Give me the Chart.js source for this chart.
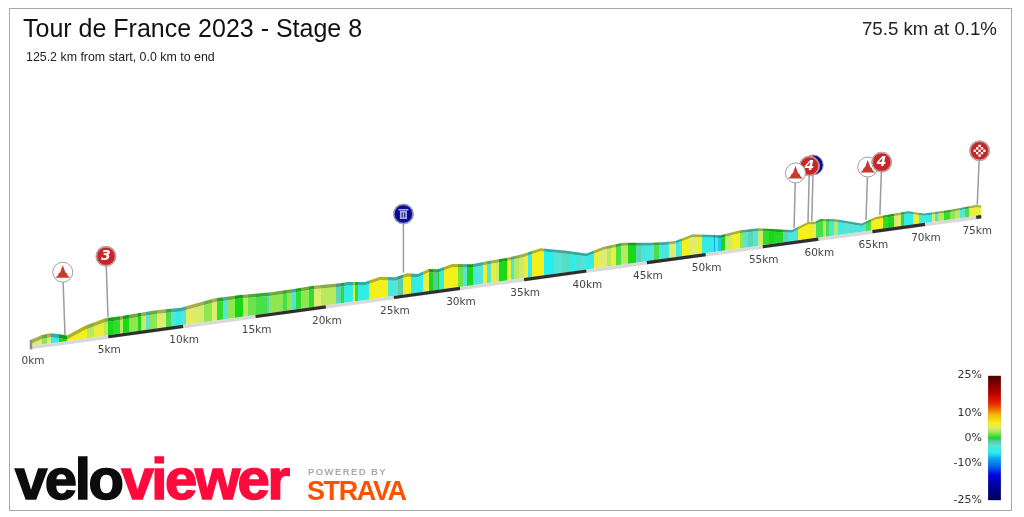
<!DOCTYPE html>
<html>
<head>
<meta charset="utf-8">
<title>Tour de France 2023 - Stage 8</title>
<script src="https://cdn.jsdelivr.net/npm/chart.js@4"></script>
<style>
  html, body { margin: 0; padding: 0; background: #fff; }
  body { position: relative; width: 1024px; height: 517px; overflow: hidden; font-family: "Liberation Sans", sans-serif; }
  canvas { position: absolute; }
  #frame { position: absolute; left: 9px; top: 8px; width: 1001px; height: 501px; border: 1.5px solid #aaa; }
  .txt { position: absolute; white-space: nowrap; }
  #title { left: 23px; top: 14px; font-size: 25px; color: #111; }
  #sub { left: 26px; top: 50px; font-size: 12.4px; color: #222; }
  #info { right: 27px; top: 18px; font-size: 18.7px; color: #222; }
  #logo { left: 15px; top: 445px; font-size: 58px; font-weight: bold; letter-spacing: -2.4px; -webkit-text-stroke: 1.6px; }
  #velo { color: #0c0c0c; }
  #viewer { color: #ff0a3c; }
  #powered { left: 308px; top: 466px; font-size: 9.5px; font-weight: bold; letter-spacing: 1.4px; color: #aaa; }
  #strava { left: 307px; top: 476px; font-size: 27px; font-weight: bold; letter-spacing: -1.4px; color: #fc5200; }
</style>
</head>
<body>
<div id="frame"></div>
<canvas id="profile" width="1024" height="517" style="left:0;top:0"></canvas>
<canvas id="gradeScale" width="61" height="150" style="left:940px;top:363px"></canvas>
<div class="txt" id="title">Tour de France 2023 - Stage 8</div>
<div class="txt" id="sub">125.2 km from start, 0.0 km to end</div>
<div class="txt" id="info">75.5 km at 0.1%</div>
<div class="txt" id="logo"><span id="velo">velo</span><span id="viewer">viewer</span></div>
<div class="txt" id="powered">POWERED BY</div>
<div class="txt" id="strava">STRAVA</div>
<script>
// Profile outline, km and apparent height above the road line
const profileKm = [0, 0.7, 1.22, 1.73, 2.31, 3.48, 4.79, 5.9, 6.96, 8.29, 9.86, 10.68, 12.2, 13.95, 16.1, 17.8, 19.1, 21.03, 21.6, 22.85, 23.97, 25.1, 25.96, 26.8, 27.6, 28.3, 29.4, 30.9, 32.4, 33.7, 34.9, 36.3, 38.4, 40.0, 41.4, 43.0, 45.2, 46.3, 47.4, 48.9, 51.3, 52.9, 54.6, 57.6, 59.1, 59.7, 60.2, 61.6, 64.0, 65.3, 67.1, 68.4, 69.9, 72.2, 75.0, 75.5];
const profileHeight = [7, 10.4, 11, 9.2, 6.3, 13.7, 18.4, 18.4, 18.9, 19.4, 18.5, 20.3, 23.3, 23.1, 21.7, 21.8, 22.4, 21.1, 21.3, 19, 22.2, 19.5, 21.9, 19.7, 23.3, 21.6, 25, 21.9, 23.1, 23.7, 25.2, 28.6, 22.5, 17.1, 21.5, 22.8, 19.1, 17.8, 17.3, 21.7, 16.9, 19, 18.6, 12.2, 18.3, 17.4, 19.4, 17, 9.2, 13.8, 14.5, 15, 10.7, 10.6, 11.8, 10.6];

// Coloured stripes, end km of each stripe and its gradient in %
const stripeEndKm = [0.7, 1, 1.3, 1.8, 2.3, 3.6, 4.05, 4.7, 5, 5.3, 5.8, 6, 6.35, 7, 7.2, 7.5, 7.8, 8.25, 8.85, 9.2, 9.5, 9.85, 10.2, 10.9, 11.45, 12, 12.35, 12.7, 13, 13.55, 14.1, 14.45, 15.05, 15.8, 15.95, 16.9, 17.25, 17.55, 17.85, 18.2, 18.8, 19.15, 19.65, 20.15, 20.75, 21.1, 21.3, 22, 22.15, 22.35, 23.15, 24.55, 24.95, 25.3, 25.7, 26.3, 27.2, 27.65, 27.95, 28.35, 28.4, 28.8, 29.85, 30.25, 30.55, 31, 31.4, 31.8, 32.05, 32.4, 32.8, 33.05, 33.65, 33.95, 34.2, 34.6, 35, 35.3, 35.65, 36.6, 37.4, 38, 38.55, 39.2, 39.5, 40, 40.65, 41, 41.65, 42, 42.45, 42.85, 43.45, 44.1, 44.5, 45.15, 45.6, 46.05, 46.9, 47.5, 47.75, 47.95, 48.55, 49.25, 49.7, 50.7, 50.85, 51.1, 51.35, 51.65, 52.25, 52.95, 53.35, 53.7, 54.15, 54.6, 55, 55.55, 56, 56.8, 57.25, 58.15, 59.5, 59.8, 60.45, 60.7, 61, 61.45, 61.8, 62.4, 62.85, 63.65, 64.4, 64.9, 66, 66.5, 67.05, 67.7, 68, 68.8, 69.4, 70.1, 70.65, 71, 71.3, 71.8, 72.45, 72.9, 73.4, 73.85, 74.3, 75.5];
const stripeGrade = [4, 2, 4, -5, 0, 6, 3, 5, 3, 0, 0.5, 3, 0, 2, 0, 3.5, -3, 2, 4, 1, -3, -5, -3, 4.2, 3.8, 2, 4, 0.5, -3, 2, 0, 3, 1.5, 1, -2, 2, 1, 2, -3.5, 0.5, 2, 0.5, 4, 3, 3, -2, 0.5, -5, 5.5, 0.5, -5, 6, -4, -3, -1.5, 6, -5, 5, 0, -1, 0, -5, 6, 1.5, -3, 0, -4, -3, 5.5, -3, 5, 3.5, 0, 5, -4, 3, 3.5, 5, -5, 6, -6, -3, -2.5, -5, -2.5, -3.5, -5, 5, 4, 3, 5, 1, 3, 0, -2, -4, -3, 1, -4, 4, -5, -3, 6, 4, 5.5, -5, -8, -3, -7, 0, 3.5, 5.5, 2, -3, -2, -3, 3.5, 0.5, 0, 0.3, -2, -4, 6, 4, 1, 3, 1, -4, 3, -4, -3, -3.5, -4, 1, 6, 0.5, 0, 4, 0.5, -5, 5, -4, -5, 4, -4, 3, 0.5, 2, 3, -3, 1, 5];

// Kilometre marks along the road
const kmTicks = [0, 5, 10, 15, 20, 25, 30, 35, 40, 45, 50, 55, 60, 65, 70, 75];
const darkStretchEnds = [[5, 10], [15, 20], [25, 30], [35, 40], [45, 50], [55, 60], [65, 70], [75, 75.5]];

// Pins, in drawing order
const pinKm = [2.18, 4.98, 25.75, 59.4, 59.06, 57.8, 64.4, 65.7, 75.1];
const pinFootHeight = [7, 19, 23.6, 18.5, 18, 14, 12, 15, 12];
const pinHeadHeight = [70, 80, 81.6, 74.5, 74, 69, 65, 68, 66];
const pinKinds = ['climb', 'cat3', 'feed', 'blank', 'cat4', 'climb', 'climb', 'cat4', 'finish'];

// Colour key
const gradeTicks = [25, 10, 0, -10, -25];
const keyGrades = [-25, -20, -15, -11, -8, -6, -3, -1, 0, 1, 2, 3, 4, 5, 6, 9, 11, 14, 18, 25];
const keyColours = ['#00005a', '#000090', '#0000e0', '#0070f0', '#10a8f0', '#22f0f0', '#58e4d4', '#58c898', '#18d818', '#48e048', '#8ee650', '#b8ea60', '#deec70', '#ecee3c', '#f4f01c', '#f4c000', '#f08000', '#e82000', '#b80000', '#4a0000'];

const pinFills = { climb: '#ffffff', cat3: '#c4262a', cat4: '#c4262a', feed: '#0a0a96', blank: '#0a0a96', finish: '#c4262a' };

// The road is drawn in perspective, so km is squeezed towards the far end
function project(km) {
    return 31 + 15.71 * km / (1 + 0.003287 * km);
}
function roadRise(km) {
    return 181 + 0.1375 * (project(km) - 110);
}
function faceDepth(km) {
    return 4 - 1.8 * km / 75.5;
}

function hexToRgb(hex) {
    return [1, 3, 5].map(i => parseInt(hex.slice(i, i + 2), 16));
}
function gradeRgb(grade) {
    let i = 0;
    while (i < keyGrades.length - 2 && grade > keyGrades[i + 1]) i++;
    const t = (grade - keyGrades[i]) / (keyGrades[i + 1] - keyGrades[i]);
    const a = hexToRgb(keyColours[i]);
    const b = hexToRgb(keyColours[i + 1]);
    return a.map((v, n) => Math.round(v + (b[n] - v) * t));
}

function stripeGradient(chart, shade) {
    const area = chart.chartArea;
    if (!area) return '#999';
    const xs = chart.scales.x;
    const left = xs.getPixelForValue(project(0));
    const right = xs.getPixelForValue(project(75.5));
    const g = chart.ctx.createLinearGradient(left, 0, right, 0);
    let from = 0;
    stripeEndKm.forEach((end, i) => {
        const rgb = gradeRgb(stripeGrade[i]).map(v => Math.round(v * shade));
        const css = `rgb(${rgb.join(',')})`;
        const p0 = (xs.getPixelForValue(project(from)) - left) / (right - left);
        const p1 = (xs.getPixelForValue(project(end)) - left) / (right - left);
        g.addColorStop(Math.min(1, Math.max(0, p0)), css);
        g.addColorStop(Math.min(1, Math.max(0, p1)), css);
        from = end;
    });
    return g;
}

function hiddenLine(points, extra) {
    return Object.assign({ data: points, pointRadius: 0, borderWidth: 0, tension: 0, fill: false }, extra);
}

// Profile bands, bottom to top
const datasets = [
    hiddenLine(profileKm.map(k => ({ x: project(k), y: roadRise(k) - 2.5 }))),
    hiddenLine(profileKm.map(k => ({ x: project(k), y: roadRise(k) + 1 })), { fill: '-1', backgroundColor: '#d9d9d9' }),
    hiddenLine(profileKm.map((k, i) => ({ x: project(k), y: roadRise(k) + profileHeight[i] - faceDepth(k) })), {
        fill: '-1',
        backgroundColor: c => stripeGradient(c.chart, 1)
    }),
    hiddenLine(profileKm.map((k, i) => ({ x: project(k), y: roadRise(k) + profileHeight[i] })), {
        fill: '-1',
        backgroundColor: c => stripeGradient(c.chart, 0.74)
    })
];

// End cap of the road at the start
datasets.push(hiddenLine([
    { x: project(0), y: roadRise(0) - 2.5 },
    { x: project(0), y: roadRise(0) + 7 }
], { borderWidth: 2.5, borderColor: '#8c8c8c' }));

// Dark stretches every other 5 km
const darkPoints = [];
darkStretchEnds.forEach(([a, b]) => {
    darkPoints.push({ x: project(a), y: roadRise(a) - 0.5 });
    darkPoints.push({ x: project(b), y: roadRise(b) - 0.5 });
    darkPoints.push({ x: project(b) + 0.1, y: null });
});
datasets.push(hiddenLine(darkPoints, { borderWidth: 3.2, borderColor: '#2e2e2e', spanGaps: false }));

// Pins, stems lean slightly away from the middle of the picture
pinKm.forEach((km, i) => {
    const foot = project(km);
    const kind = pinKinds[i];
    datasets.push(hiddenLine([
        { x: foot, y: roadRise(km) + pinFootHeight[i] },
        { x: foot + (foot - 512) * 0.005, y: roadRise(km) + pinHeadHeight[i] }
    ], {
        borderWidth: 1.5,
        borderColor: '#9c9c9c',
        pointRadius: [0, 10],
        pointBackgroundColor: pinFills[kind],
        pointBorderColor: '#a0a0a0',
        pointBorderWidth: 1,
        pinKind: kind
    }));
});

datasets.forEach((d, i) => { d.order = 100 - i; });

function drawPinGlyph(ctx, kind, x, y) {
    ctx.save();
    if (kind !== 'climb') {
        ctx.strokeStyle = 'rgba(255,255,255,0.6)';
        ctx.lineWidth = 0.8;
        ctx.beginPath();
        ctx.arc(x, y, 9.2, 0, Math.PI * 2);
        ctx.stroke();
    }
    if (kind === 'cat3' || kind === 'cat4') {
        ctx.fillStyle = '#fff';
        ctx.font = 'italic bold 14px "DejaVu Sans"';
        ctx.textAlign = 'center';
        ctx.textBaseline = 'middle';
        ctx.fillText(kind === 'cat3' ? '3' : '4', x, y + 0.5);
    } else if (kind === 'climb') {
        ctx.fillStyle = '#c83a2c';
        ctx.beginPath();
        ctx.moveTo(x - 7.5, y + 5.5);
        ctx.lineTo(x - 5, y + 3.5);
        ctx.lineTo(x - 4, y + 1);
        ctx.lineTo(x - 2.5, y);
        ctx.lineTo(x - 1.5, y - 3);
        ctx.lineTo(x, y - 7);
        ctx.lineTo(x + 1.5, y - 3);
        ctx.lineTo(x + 2.5, y);
        ctx.lineTo(x + 4, y + 1);
        ctx.lineTo(x + 5, y + 3.5);
        ctx.lineTo(x + 7.5, y + 5.5);
        ctx.closePath();
        ctx.fill();
    } else if (kind === 'feed') {
        ctx.fillStyle = '#a8b0e0';
        ctx.fillRect(x - 3.5, y - 3, 7, 8);
        ctx.fillRect(x - 5, y - 5, 10, 1.5);
        ctx.fillStyle = '#0a0a96';
        ctx.fillRect(x - 1.8, y - 1.5, 1, 5);
        ctx.fillRect(x + 0.8, y - 1.5, 1, 5);
    } else if (kind === 'finish') {
        ctx.fillStyle = '#fff';
        for (let r = -2; r <= 2; r++) {
            for (let c = -2; c <= 2; c++) {
                if ((r + c + 8) % 2 === 0 && Math.abs(r) + Math.abs(c) < 4) {
                    ctx.fillRect(x + c * 2.4 - 1.2, y + r * 2.4 - 1.2, 2.4, 2.4);
                }
            }
        }
    }
    ctx.restore();
}

const profileMarks = {
    id: 'profileMarks',
    afterDatasetDraw(chart, args) {
        const kind = chart.data.datasets[args.index].pinKind;
        if (!kind || kind === 'blank') return;
        const head = args.meta.data[1];
        drawPinGlyph(chart.ctx, kind, head.x, head.y);
    },
    afterDraw(chart) {
        const { ctx, scales } = chart;
        ctx.save();
        ctx.fillStyle = '#444';
        ctx.font = '10.5px "DejaVu Sans"';
        ctx.textAlign = 'center';
        ctx.textBaseline = 'middle';
        kmTicks.forEach(k => {
            const x = scales.x.getPixelForValue(project(k)) + (k === 0 ? 2 : 1);
            const y = scales.y.getPixelForValue(roadRise(k) - 14.5);
            ctx.fillText(k + 'km', x, y);
        });
        ctx.restore();
    }
};

new Chart(document.getElementById('profile'), {
    type: 'line',
    data: { datasets },
    plugins: [profileMarks],
    options: {
        responsive: false,
        animation: false,
        events: [],
        layout: { padding: 0, autoPadding: false },
        plugins: { legend: { display: false }, tooltip: { enabled: false } },
        scales: {
            x: { type: 'linear', min: 0, max: 1024, display: false },
            y: { type: 'linear', min: 0, max: 517, display: false }
        }
    }
});

// Colour key on the right
function keyGradient(c) {
    const chart = c.chart;
    if (!chart.chartArea) return '#888';
    const ys = chart.scales.y;
    const g = chart.ctx.createLinearGradient(0, ys.getPixelForValue(-25), 0, ys.getPixelForValue(25));
    keyGrades.forEach((grade, i) => g.addColorStop((grade + 25) / 50, keyColours[i]));
    return g;
}

new Chart(document.getElementById('gradeScale'), {
    type: 'bar',
    data: {
        labels: ['grade'],
        datasets: [{
            data: [[-25, 25]],
            backgroundColor: keyGradient,
            borderColor: '#999',
            borderWidth: 0.5,
            borderSkipped: false,
            barPercentage: 1,
            categoryPercentage: 1
        }]
    },
    options: {
        responsive: false,
        animation: false,
        events: [],
        layout: { padding: { top: 7, bottom: 7, left: 0, right: 0 }, autoPadding: false },
        plugins: { legend: { display: false }, tooltip: { enabled: false } },
        scales: {
            x: { display: false },
            y: {
                min: -25,
                max: 25,
                grid: { display: false, drawTicks: false },
                border: { display: false },
                afterFit: s => { s.width = 48; },
                afterBuildTicks: s => { s.ticks = gradeTicks.map(v => ({ value: v })); },
                ticks: {
                    padding: 6,
                    color: '#333',
                    font: { family: 'DejaVu Sans', size: 11 },
                    callback: v => v + '%'
                }
            }
        }
    }
});
</script>
</body>
</html>
